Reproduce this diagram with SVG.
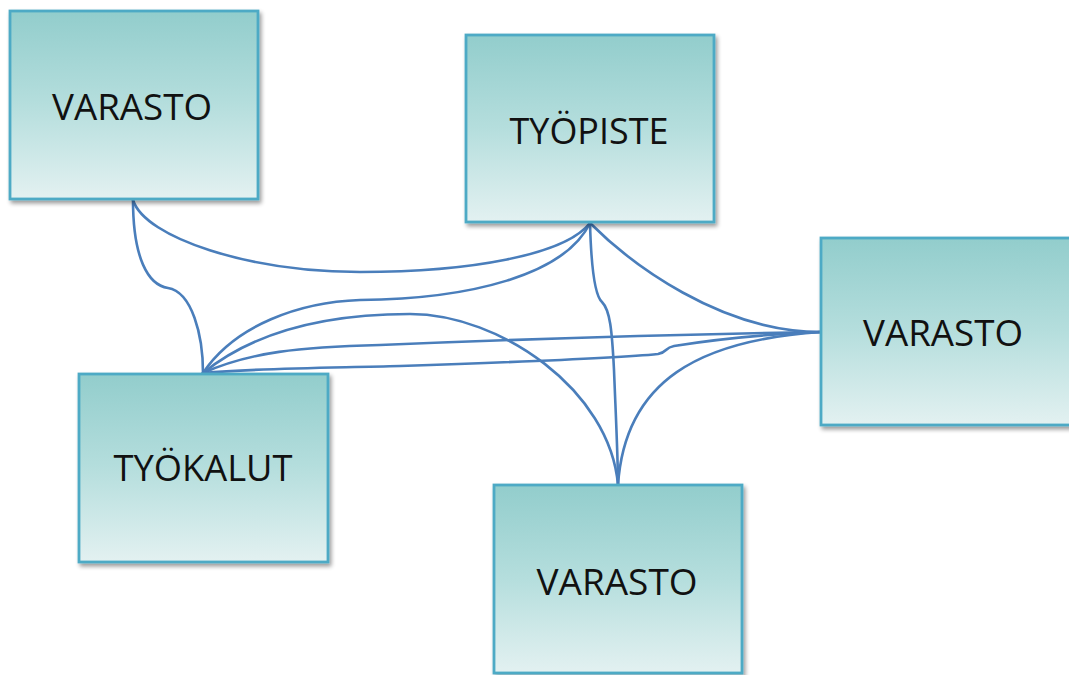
<svg xmlns="http://www.w3.org/2000/svg" width="1069" height="675" viewBox="0 0 1069 675">
  <defs>
    <linearGradient id="boxFill" x1="0" y1="0" x2="0" y2="1">
      <stop offset="0" stop-color="#92CDCC"/>
      <stop offset="0.5" stop-color="#B5DEDD"/>
      <stop offset="1" stop-color="#E3F1F1"/>
    </linearGradient>
    <filter id="shadow" x="-10%" y="-10%" width="125%" height="125%">
      <feGaussianBlur in="SourceAlpha" stdDeviation="2"/>
      <feOffset dx="2" dy="3" result="off"/>
      <feComponentTransfer><feFuncA type="linear" slope="0.4"/></feComponentTransfer>
      <feMerge><feMergeNode/><feMergeNode in="SourceGraphic"/></feMerge>
    </filter>
    <style>
      .box { fill: url(#boxFill); stroke: #4DAAC5; stroke-width: 2.8; filter: url(#shadow); }
      .label { font-family: "Open Sans", "Lato", "Liberation Sans", sans-serif; font-size: 36px; fill: #111; text-anchor: middle; }
      .link { fill: none; stroke: #4A7EBB; stroke-width: 2.6; stroke-linecap: round; stroke-linejoin: round; }
    </style>
  </defs>

  <rect width="1069" height="675" fill="#FFFFFF"/>

  <!-- connectors between the storage, workstation and tool boxes -->
  <g id="connectors">
    <!-- varasto (top-left) to työpiste -->
    <path class="link" d="M133,200 C145,238 250,272 360,272 C470,272 565,255 590,223"/>
    <!-- varasto (top-left) to työkalut -->
    <path class="link" d="M133,200 C133,258 148,285 168,288 C192,292 203,335 203,373"/>
    <!-- työkalut to työpiste -->
    <path class="link" d="M203,373 C235,325 300,302 360,300 C470,299 565,275 590,223"/>
    <!-- työkalut to varasto (bottom) -->
    <path class="link" d="M203,373 C250,335 320,314 410,314 C500,314 610,390 618,485"/>
    <!-- työkalut to varasto (right), upper line -->
    <path class="link" d="M203,373 C250,352 300,347 380,345 C550,338 700,334 821,332"/>
    <!-- työkalut to varasto (right), lower line -->
    <path class="link" d="M203,373 C260,368 320,368 400,366 C520,362 620,358 658,354 C668,352 664,348 674,346 C712,340 770,334 821,332"/>
    <!-- työpiste to varasto (bottom) -->
    <path class="link" d="M590,223 C591,260 594,295 602,302 C610,310 612,330 614,370 C616,420 618,460 618,485"/>
    <!-- työpiste to varasto (right) -->
    <path class="link" d="M590,223 C630,263 720,332 821,332"/>
    <!-- varasto (right) to varasto (bottom) -->
    <path class="link" d="M821,332 C700,340 625,380 618,485"/>
  </g>

  <g id="varasto-top-left">
    <rect class="box" x="10" y="11" width="248" height="188"/>
    <text class="label" x="132" y="120" textLength="160" lengthAdjust="spacingAndGlyphs">VARASTO</text>
  </g>

  <g id="tyopiste">
    <rect class="box" x="466" y="35" width="248" height="187"/>
    <text class="label" x="589" y="144" textLength="159" lengthAdjust="spacingAndGlyphs">TYÖPISTE</text>
  </g>

  <g id="varasto-right">
    <rect class="box" x="821" y="238" width="260" height="187"/>
    <text class="label" x="943" y="346" textLength="160" lengthAdjust="spacingAndGlyphs">VARASTO</text>
  </g>

  <g id="tyokalut">
    <rect class="box" x="79" y="374" width="249" height="188"/>
    <text class="label" x="203" y="481" textLength="179" lengthAdjust="spacingAndGlyphs">TYÖKALUT</text>
  </g>

  <g id="varasto-bottom">
    <rect class="box" x="494" y="485" width="248" height="188"/>
    <text class="label" x="617" y="595" textLength="161" lengthAdjust="spacingAndGlyphs">VARASTO</text>
  </g>
</svg>
